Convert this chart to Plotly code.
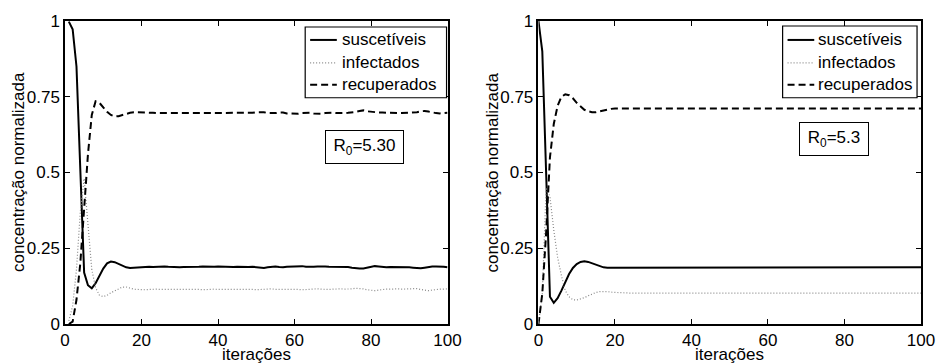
import plotly.graph_objects as go

# ---------------- data ----------------
series_names = ["suscetíveis", "infectados", "recuperados"]
r0_labels = ["R<sub>0</sub>=5.30", "R<sub>0</sub>=5.3"]
x_ticks = [0, 20, 40, 60, 80, 100]
y_ticks = [0, 0.25, 0.5, 0.75, 1]
y_tick_text = ["0", "0.25", "0.5", "0.75", "1"]
x_title = "iterações"
y_title = "concentração normalizada"

# left panel: iterations 1..100
S_left = [
    0.998, 0.973, 0.85, 0.49, 0.17, 0.128, 0.118, 0.135, 0.16, 0.183,
    0.2, 0.206, 0.204, 0.198, 0.192, 0.187, 0.185, 0.186, 0.187, 0.189,
    0.19, 0.189, 0.188, 0.189, 0.19, 0.19, 0.189, 0.188, 0.187, 0.187,
    0.188, 0.188, 0.187, 0.188, 0.189, 0.19, 0.189, 0.188, 0.189, 0.19,
    0.189, 0.188, 0.187, 0.188, 0.189, 0.188, 0.187, 0.188, 0.189, 0.188,
    0.186, 0.185, 0.187, 0.189, 0.19, 0.188, 0.187, 0.189, 0.19, 0.191,
    0.192, 0.191, 0.189, 0.188, 0.189, 0.19, 0.191, 0.19, 0.189, 0.189,
    0.188, 0.189, 0.189, 0.188, 0.186, 0.184, 0.183, 0.183, 0.185, 0.189,
    0.191, 0.19, 0.188, 0.187, 0.188, 0.188, 0.188, 0.189, 0.188, 0.187,
    0.186, 0.185, 0.184, 0.186, 0.189, 0.19, 0.19, 0.19, 0.189, 0.187,
]
I_left = [
    0.01, 0.06, 0.18, 0.37, 0.48, 0.32, 0.18, 0.12, 0.095, 0.09,
    0.095, 0.103, 0.11, 0.117, 0.122, 0.122, 0.118, 0.115, 0.114, 0.113,
    0.113, 0.114, 0.115, 0.115, 0.114, 0.114, 0.115, 0.116, 0.116, 0.115,
    0.114, 0.114, 0.115, 0.115, 0.114, 0.113, 0.114, 0.115, 0.115, 0.114,
    0.114, 0.115, 0.116, 0.115, 0.114, 0.114, 0.115, 0.115, 0.114, 0.113,
    0.114, 0.116, 0.117, 0.116, 0.114, 0.114, 0.115, 0.116, 0.116, 0.115,
    0.114, 0.113, 0.114, 0.115, 0.116, 0.116, 0.115, 0.114, 0.114, 0.115,
    0.116, 0.116, 0.115, 0.115, 0.116, 0.118, 0.118, 0.116, 0.113, 0.111,
    0.11, 0.112, 0.114, 0.115, 0.115, 0.116, 0.116, 0.115, 0.115, 0.116,
    0.117, 0.117, 0.114, 0.111, 0.11, 0.112, 0.114, 0.115, 0.115, 0.116,
]
R_left = [
    0.0, 0.008, 0.08, 0.2, 0.38, 0.56, 0.69, 0.735, 0.73, 0.715,
    0.7, 0.69, 0.685, 0.686, 0.69, 0.694, 0.697, 0.699, 0.699, 0.698,
    0.697, 0.697, 0.697, 0.696, 0.696, 0.696, 0.696, 0.697, 0.697, 0.698,
    0.698, 0.698, 0.698, 0.697, 0.697, 0.697, 0.697, 0.697, 0.696, 0.696,
    0.697, 0.697, 0.697, 0.697, 0.697, 0.698, 0.698, 0.697, 0.697, 0.699,
    0.7, 0.699, 0.696, 0.695, 0.696, 0.698, 0.698, 0.695, 0.694, 0.694,
    0.694, 0.696, 0.697, 0.697, 0.695, 0.694, 0.694, 0.696, 0.697, 0.697,
    0.696, 0.695, 0.696, 0.697, 0.698, 0.7, 0.703, 0.705, 0.702, 0.7,
    0.699, 0.698, 0.698, 0.697, 0.697, 0.696, 0.696, 0.696, 0.697, 0.697,
    0.697, 0.699, 0.702, 0.703, 0.701, 0.698, 0.696, 0.695, 0.696, 0.697,
]

# right panel: iterations 0..100
S_right = [
    1.0, 0.9, 0.5, 0.09, 0.07, 0.085, 0.11, 0.14, 0.165, 0.185,
    0.198, 0.205, 0.207, 0.205, 0.2, 0.195, 0.19, 0.187, 0.186, 0.186,
    0.187, 0.187, 0.187, 0.187, 0.187, 0.187, 0.187, 0.187, 0.187, 0.187,
    0.187, 0.187, 0.187, 0.187, 0.187, 0.187, 0.187, 0.187, 0.187, 0.187,
    0.187, 0.187, 0.187, 0.187, 0.187, 0.187, 0.187, 0.187, 0.187, 0.187,
    0.187, 0.187, 0.187, 0.187, 0.187, 0.187, 0.187, 0.187, 0.187, 0.187,
    0.187, 0.187, 0.187, 0.187, 0.187, 0.187, 0.187, 0.187, 0.187, 0.187,
    0.187, 0.187, 0.187, 0.187, 0.187, 0.187, 0.187, 0.187, 0.187, 0.187,
    0.187, 0.187, 0.187, 0.187, 0.187, 0.187, 0.187, 0.187, 0.187, 0.187,
    0.187, 0.187, 0.187, 0.187, 0.187, 0.187, 0.187, 0.187, 0.187, 0.187,
    0.187,
]
I_right = [
    0.0, 0.1, 0.45, 0.42, 0.31, 0.22, 0.16, 0.11, 0.09, 0.08,
    0.079, 0.082, 0.087, 0.093, 0.099, 0.104, 0.107, 0.108, 0.107, 0.105,
    0.104, 0.103, 0.103, 0.102, 0.102, 0.102, 0.102, 0.102, 0.102, 0.102,
    0.102, 0.102, 0.102, 0.102, 0.102, 0.102, 0.102, 0.102, 0.102, 0.102,
    0.102, 0.102, 0.102, 0.102, 0.102, 0.102, 0.102, 0.102, 0.102, 0.102,
    0.102, 0.102, 0.102, 0.102, 0.102, 0.102, 0.102, 0.102, 0.102, 0.102,
    0.102, 0.102, 0.102, 0.102, 0.102, 0.102, 0.102, 0.102, 0.102, 0.102,
    0.102, 0.102, 0.102, 0.102, 0.102, 0.102, 0.102, 0.102, 0.102, 0.102,
    0.102, 0.102, 0.102, 0.102, 0.102, 0.102, 0.102, 0.102, 0.102, 0.102,
    0.102, 0.102, 0.102, 0.102, 0.102, 0.102, 0.102, 0.102, 0.102, 0.102,
    0.102,
]
R_right = [
    0.0, 0.1, 0.3, 0.55, 0.66, 0.72, 0.75, 0.758, 0.755, 0.745,
    0.73, 0.718, 0.707, 0.702, 0.699, 0.699, 0.702, 0.705, 0.708, 0.71,
    0.711, 0.711, 0.711, 0.711, 0.711, 0.711, 0.711, 0.711, 0.711, 0.711,
    0.711, 0.711, 0.711, 0.711, 0.711, 0.711, 0.711, 0.711, 0.711, 0.711,
    0.711, 0.711, 0.711, 0.711, 0.711, 0.711, 0.711, 0.711, 0.711, 0.711,
    0.711, 0.711, 0.711, 0.711, 0.711, 0.711, 0.711, 0.711, 0.711, 0.711,
    0.711, 0.711, 0.711, 0.711, 0.711, 0.711, 0.711, 0.711, 0.711, 0.711,
    0.711, 0.711, 0.711, 0.711, 0.711, 0.711, 0.711, 0.711, 0.711, 0.711,
    0.711, 0.711, 0.711, 0.711, 0.711, 0.711, 0.711, 0.711, 0.711, 0.711,
    0.711, 0.711, 0.711, 0.711, 0.711, 0.711, 0.711, 0.711, 0.711, 0.711,
    0.711,
]

x_left = list(range(1, 1 + len(S_left)))
x_right = list(range(0, len(S_right)))

# ---------------- figure ----------------
FONT = "Liberation Sans, Arial, Helvetica, sans-serif"
styles = [
    dict(color="black", width=2, dash="solid"),
    dict(color="#888888", width=1.2, dash="1px,2px"),
    dict(color="black", width=2, dash="7px,4px"),
]

fig = go.Figure()
panels = [
    ("x", "y", x_left, [S_left, I_left, R_left]),
    ("x2", "y2", x_right, [S_right, I_right, R_right]),
]
for xa, ya, xs, ys in panels:
    for name, yv, st in zip(series_names, ys, styles):
        fig.add_trace(go.Scatter(
            x=xs, y=yv, mode="lines", name=name, line=st,
            xaxis=xa, yaxis=ya, showlegend=False,
        ))

W, H = 947, 363
ml, mr, mt, mb = 65, 16, 20, 39
pw = W - ml - mr
ph = H - mt - mb
d1 = [0, (452 - ml) / pw]
d2 = [(544 - ml) / pw, 1]


def px(xp):
    return (xp - ml) / pw


def py(yp):
    return (H - mb - yp) / ph


axis_common = dict(
    showline=True, linecolor="black", linewidth=1.5, mirror="ticks",
    ticks="inside", ticklen=5, tickwidth=1, tickcolor="black",
    showgrid=False, zeroline=False,
    tickfont=dict(family=FONT, size=17, color="black"),
)
xaxis_common = dict(axis_common, range=[0, 100], tickmode="array", tickvals=x_ticks)
yaxis_common = dict(axis_common, range=[0, 1], tickmode="array",
                    tickvals=y_ticks, ticktext=y_tick_text)

fig.update_layout(
    width=W, height=H,
    margin=dict(l=ml, r=mr, t=mt, b=mb),
    paper_bgcolor="white", plot_bgcolor="white",
    font=dict(family=FONT, size=17, color="black"),
    xaxis=dict(xaxis_common, domain=d1, anchor="y"),
    yaxis=dict(yaxis_common, domain=[0, 1], anchor="x"),
    xaxis2=dict(xaxis_common, domain=d2, anchor="y2"),
    yaxis2=dict(yaxis_common, domain=[0, 1], anchor="x2"),
)

# legends (box, line samples, labels) for each panel
legend_layouts = [
    dict(box=(308, 26, 451, 97), line=(313, 340), text_x=343, rows=[39, 62, 84]),
    dict(box=(791, 25, 927, 97), line=(796, 823), text_x=825, rows=[39, 62, 84]),
]
for lg in legend_layouts:
    x0, y0, x1, y1 = lg["box"]
    fig.add_shape(type="rect", xref="paper", yref="paper",
                  x0=px(x0), x1=px(x1), y0=py(y0), y1=py(y1),
                  line=dict(color="black", width=1.2), fillcolor="white", layer="above")
    for name, st, ry in zip(series_names, styles, lg["rows"]):
        fig.add_shape(type="line", xref="paper", yref="paper",
                      x0=px(lg["line"][0]), x1=px(lg["line"][1]), y0=py(ry), y1=py(ry),
                      line=dict(color=st["color"], width=st["width"], dash=st["dash"]),
                      layer="above")
        fig.add_annotation(x=px(lg["text_x"]), y=py(ry), xref="paper", yref="paper",
                           text=name, showarrow=False, xanchor="left", yanchor="middle",
                           font=dict(family=FONT, size=17, color="black"))

# R0 boxes
fig.add_annotation(x=78.4, y=0.584, xref="x", yref="y", text=r0_labels[0],
                   showarrow=False, bordercolor="black", borderwidth=1,
                   borderpad=5, bgcolor="white", width=67, align="center",
                   font=dict(family=FONT, size=17, color="black"))
fig.add_annotation(x=77.3, y=0.609, xref="x2", yref="y2", text=r0_labels[1],
                   showarrow=False, bordercolor="black", borderwidth=1,
                   borderpad=5, bgcolor="white", width=58, align="center",
                   font=dict(family=FONT, size=17, color="black"))

# axis titles
for cx in [(ml + 452) / 2, (544 + 931) / 2]:
    fig.add_annotation(x=px(cx), y=py(355), xref="paper", yref="paper",
                       text=x_title, showarrow=False, xanchor="center", yanchor="middle",
                       font=dict(family=FONT, size=17, color="black"))
for cx in [18, 497]:
    fig.add_annotation(x=px(cx), y=0.5, xref="paper", yref="paper",
                       text=y_title, showarrow=False, textangle=-90,
                       xanchor="center", yanchor="middle",
                       font=dict(family=FONT, size=17, color="black"))

fig.write_html("out.html")
